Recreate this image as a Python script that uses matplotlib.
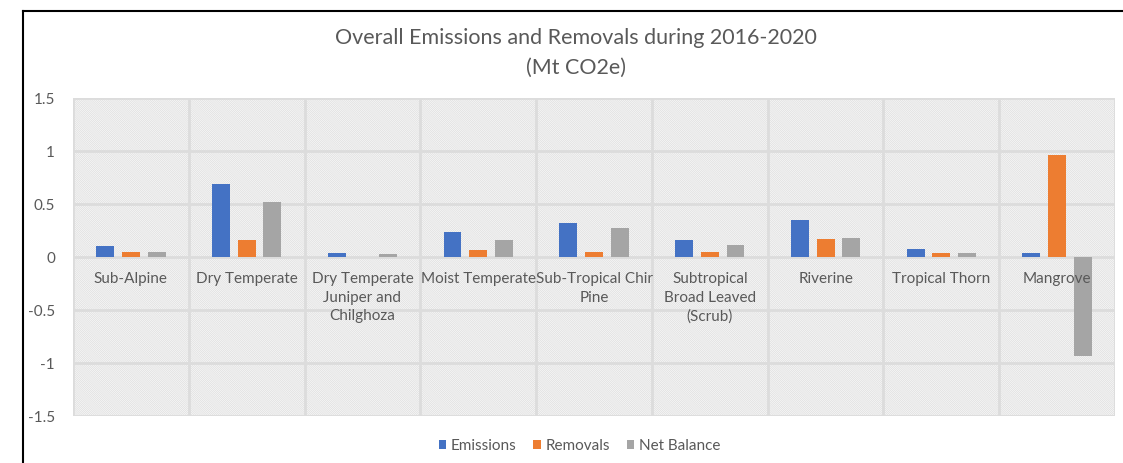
import matplotlib
matplotlib.use("Agg")
import matplotlib.pyplot as plt
import numpy as np
from matplotlib.patches import Rectangle, Patch
from matplotlib.lines import Line2D

categories = ["Sub-Alpine", "Dry Temperate", "Dry Temperate\nJuniper and\nChilghoza",
              "Moist Temperate", "Sub-Tropical Chir\nPine", "Subtropical\nBroad Leaved\n(Scrub)",
              "Riverine", "Tropical Thorn", "Mangrove"]
emissions = [0.10, 0.69, 0.035, 0.233, 0.324, 0.157, 0.353, 0.073, 0.035]
removals = [0.05, 0.16, 0.003, 0.07, 0.05, 0.044, 0.17, 0.035, 0.96]
net_balance = [0.047, 0.52, 0.03, 0.163, 0.27, 0.113, 0.176, 0.035, -0.93]
series_names = ["Emissions", "Removals", "Net Balance"]
colors = ["#4472C4", "#ED7D31", "#A5A5A5"]
yticks = [-1.5, -1, -0.5, 0, 0.5, 1, 1.5]
ytick_labels = ["-1.5", "-1", "-0.5", "0", "0.5", "1", "1.5"]

plt.rcParams['font.family'] = ['Lato', 'DejaVu Sans']
plt.rcParams['hatch.color'] = '#e2e2e2'
plt.rcParams['hatch.linewidth'] = 0.7
txt = '#595959'
fs = 11

fig = plt.figure(figsize=(11.23, 4.63), dpi=100)
ax = fig.add_axes([0.065, 0.1015, 0.9279, 0.6868])

n = len(categories)
x = np.arange(n)
ax.set_xlim(-0.5, n - 0.5)
ax.set_ylim(-1.5, 1.5)

# hatched background
ax.add_patch(Rectangle((0, 0), 1, 1, transform=ax.transAxes, facecolor='white',
                       edgecolor='#e2e2e2', hatch='\\' * 16, linewidth=0, zorder=0))

# gridlines
for yv in yticks:
    ax.axhline(yv, color='#dcdcdc', lw=2, zorder=1)
for xv in np.arange(-0.5, n, 1):
    ax.axvline(xv, color='#dcdcdc', lw=2, zorder=1)

offset = 0.222
width = 0.155
for i, (vals, c) in enumerate(zip([emissions, removals, net_balance], colors)):
    ax.bar(x + (i - 1) * offset, vals, width=width, color=c, zorder=2)

for s in ax.spines.values():
    s.set_visible(False)
ax.spines['bottom'].set_position(('data', 0))
ax.set_xticks(x)
ax.set_xticklabels(categories, fontsize=fs, color=txt, linespacing=1.45)
ax.tick_params(axis='x', length=0, pad=10.5)
ax.set_yticks(yticks)
ax.set_yticklabels(ytick_labels, fontsize=fs, color=txt)
ax.tick_params(axis='y', length=0, pad=13)
ax.xaxis.set_zorder(5)

fig.text(0.513, 0.918, "Overall Emissions and Removals during 2016-2020",
         ha='center', va='center', fontsize=15.5, color=txt)
fig.text(0.513, 0.853, "(Mt CO2e)", ha='center', va='center', fontsize=15.5, color=txt)

handles = [Patch(facecolor=c, label=s) for c, s in zip(colors, series_names)]
fig.legend(handles=handles, loc='center', bbox_to_anchor=(0.516, 0.037), ncol=3,
           frameon=False, fontsize=fs, labelcolor=txt, handlelength=0.5,
           handleheight=0.5, handletextpad=0.3, columnspacing=1.1)

# border lines (top and left)
fig.add_artist(Line2D([23/1123, 1], [1 - 11/463, 1 - 11/463], color='black', lw=1.5,
                      transform=fig.transFigure))
fig.add_artist(Line2D([23/1123, 23/1123], [0, 1 - 11/463], color='black', lw=1.5,
                      transform=fig.transFigure))

fig.savefig("out.png", dpi=100)
